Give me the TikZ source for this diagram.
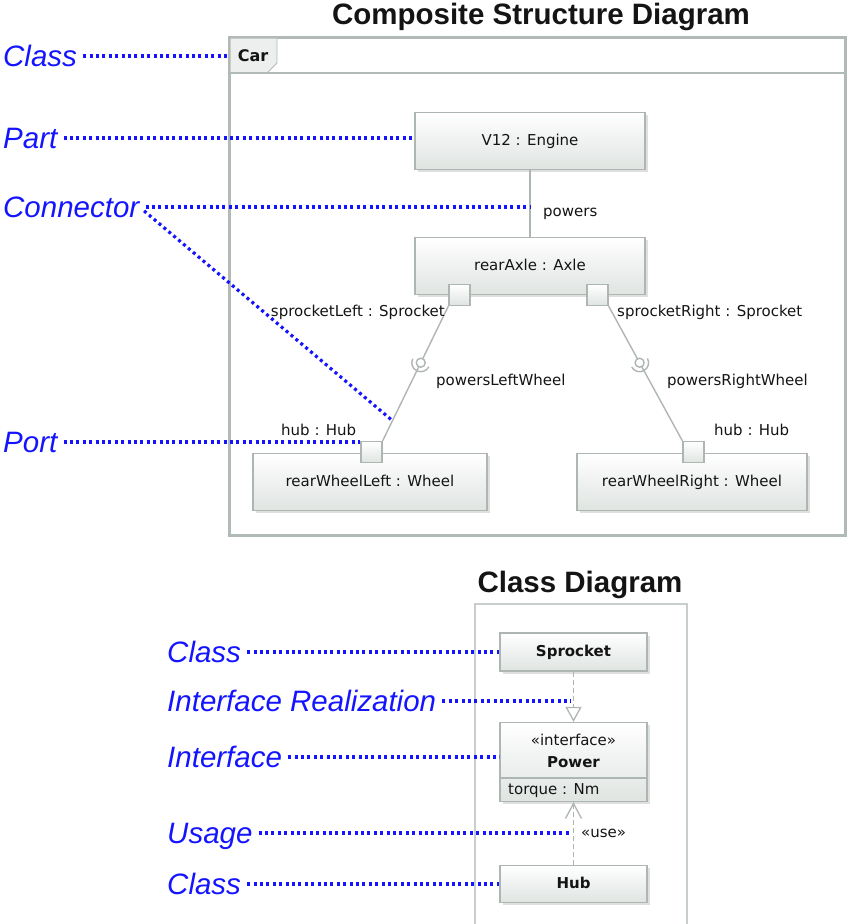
\documentclass[tikz,border=0pt]{standalone}
\usepackage{fontspec}
\setmainfont{Liberation Sans}
\newfontfamily\umlfamily{DejaVu Sans}
\usetikzlibrary{arrows.meta, shadows}
\definecolor{ink}{HTML}{141414}
\definecolor{frameGrey}{HTML}{B2BAB6}
\definecolor{edgeGrey}{HTML}{AEB6B2}
\definecolor{partFill}{HTML}{DFE4E1}
\definecolor{tabFill}{HTML}{ECEFED}
\definecolor{cdGrey}{HTML}{C8CECB}
\definecolor{noteBlue}{HTML}{1414FF}

\begin{document}
\begin{tikzpicture}[
    x=1pt, y=-1pt,
    every node/.style={font=\umlfamily\fontsize{15}{18}\selectfont,
                       text=ink, inner sep=0pt,
                       text height=11.5pt, text depth=3pt},
    part/.style={draw=edgeGrey, line width=1.2pt, top color=white,
                 bottom color=partFill, minimum width=230pt,
                 minimum height=57pt,
                 drop shadow={shadow xshift=2.5pt, shadow yshift=-2.5pt,
                              fill=black!25, opacity=0.5}},
    port/.style={draw=edgeGrey, line width=1.2pt, top color=white,
                 bottom color=partFill, minimum size=21pt},
    classbox/.style={part, minimum width=147pt, minimum height=38pt},
    link/.style={draw=edgeGrey, line width=1.4pt},
    realize/.style={draw=edgeGrey, line width=1.3pt,
                    dash pattern=on 5pt off 3pt,
                    -{Triangle[open, length=15pt, width=16pt]}},
    usage/.style={draw=edgeGrey, line width=1.3pt,
                  dash pattern=on 5pt off 3pt,
                  -{Straight Barb[length=15pt, width=16pt]}},
    annot/.style={font=\rmfamily\itshape\fontsize{29.5}{34}\selectfont,
                  text=noteBlue, anchor=west, text height=21pt,
                  text depth=0pt},
    pointer/.style={draw=noteBlue, line width=3.2pt,
                    dash pattern=on 3pt off 3.4pt, shorten <=6pt},
    title/.style={font=\rmfamily\bfseries\fontsize{29.5}{34}\selectfont,
                  text height=21pt, text depth=6pt},
    ]

\useasboundingbox (0,0) rectangle (850,924);

% ====================================================================
% Composite structure diagram
% ====================================================================
\node[title] (cstTitle) at (541,17) {Composite Structure Diagram};

% Frame with the "Car" tab
\draw[frameGrey, line width=3pt] (229,37) rectangle (845,535);
\fill[tabFill] (230.5,38.5) -- (277,38.5) -- (277,63) -- (268,72)
  -- (230.5,72) -- cycle;
\draw[frameGrey, line width=0.8pt] (277,38.5) -- (277,63) -- (268,72);
\draw[frameGrey, line width=1.8pt] (230,73) -- (844,73);
\node[font=\umlfamily\bfseries\fontsize{16}{18}\selectfont] (car)
  at (253,57) {Car};

% Parts
\node[part] (engine) at (530,141) {V12 : Engine};
\node[part] (axle) at (530,266) {rearAxle : Axle};
\node[part, minimum width=234pt] (wheelL) at (370,482)
  {rearWheelLeft : Wheel};
\node[part] (wheelR) at (692,482) {rearWheelRight : Wheel};

% Ports
\node[port] (sprL) at (459.5,295) {};
\node[port] (sprR) at (597.5,295) {};
\node[port] (hubL) at (371.5,452) {};
\node[port] (hubR) at (693.5,452) {};

% Connectors
\draw[link] (engine) -- (axle);
\node[anchor=west] (lblPowers) at (543,212) {powers};

\draw[link] (sprL.south west) -- (hubL.north east)
  coordinate[pos=0.42] (ballL) coordinate[pos=0.85] (tipL);
\draw[link] (sprR.south east) -- (hubR.north west)
  coordinate[pos=0.42] (ballR);

% Ball and socket on each wheel connector
\draw[link] ([shift={(153.8:9pt)}]ballL)
  arc[start angle=153.8, end angle=333.8, radius=9pt];
\draw[link, fill=white] (ballL) circle[radius=4.5pt];
\draw[link] ([shift={(209:9pt)}]ballR)
  arc[start angle=209, end angle=389, radius=9pt];
\draw[link, fill=white] (ballR) circle[radius=4.5pt];

% Connector and port labels
\node[anchor=east] (lblSprL) at (445,312) {sprocketLeft : Sprocket};
\node[anchor=west] (lblSprR) at (617,312) {sprocketRight : Sprocket};
\node[anchor=west] (lblWheelL) at (436,381) {powersLeftWheel};
\node[anchor=west] (lblWheelR) at (667,381) {powersRightWheel};
\node[anchor=west] (lblHubL) at (281,431) {hub : Hub};
\node[anchor=west] (lblHubR) at (714,431) {hub : Hub};

% Annotations
\coordinate (frameW) at (228,56);
\node[annot] (annClass) at (3,56) {Class};
\node[annot] (annPart) at (3,138) {Part};
\node[annot] (annConn) at (3,207) {Connector};
\node[annot] (annPort) at (3,442) {Port};

\draw[pointer] (annClass.east) -- (frameW);
\draw[pointer] (annPart.east) -- (annPart.east -| engine.west);
\draw[pointer] (annConn.east) -- (annConn.east -| engine.south);
\draw[pointer] (annConn.east) -- (tipL);
\draw[pointer] (annPort.east) -- (annPort.east -| hubL.west);

% ====================================================================
% Class diagram
% ====================================================================
\node[title] (cdTitle) at (580,585) {Class Diagram};
\draw[cdGrey, line width=1.2pt] (475,924) -- (475,604) -- (687,604)
  -- (687,924);

\node[classbox] (sprocket) at (573.5,652)
  {\bfseries Sprocket};
\node[classbox, minimum height=79pt] (power) at (573.5,762) {};
\node (powerSt) at (573.5,741) {«interface»};
\node[font=\umlfamily\bfseries\fontsize{15}{18}\selectfont]
  (powerName) at (573.5,763) {Power};
\draw[edgeGrey, line width=1.2pt] (power.west |- 0,778)
  -- (power.east |- 0,778);
\node[anchor=west] (powerAttr) at (508,790) {torque : Nm};
\node[classbox, minimum height=37pt] (hub) at (573.5,884)
  {\bfseries Hub};

\draw[realize] (sprocket) -- (power);
\draw[usage] (hub) -- (power);
\node[anchor=west] (lblUse) at (581,833) {«use»};

% Annotations
\node[annot] (annClassA) at (167,652) {Class};
\node[annot] (annReal) at (167,701) {Interface Realization};
\node[annot] (annIface) at (167,757) {Interface};
\node[annot] (annUsage) at (167,833) {Usage};
\node[annot] (annClassB) at (167,884) {Class};

\draw[pointer] (annClassA.east) -- (annClassA.east -| sprocket.west);
\draw[pointer, shorten >=3pt] (annReal.east) -- (annReal.east -| sprocket.south);
\draw[pointer] (annIface.east) -- (annIface.east -| power.west);
\draw[pointer, shorten >=3pt] (annUsage.east) -- (annUsage.east -| hub.north);
\draw[pointer] (annClassB.east) -- (annClassB.east -| hub.west);

\end{tikzpicture}
\end{document}
